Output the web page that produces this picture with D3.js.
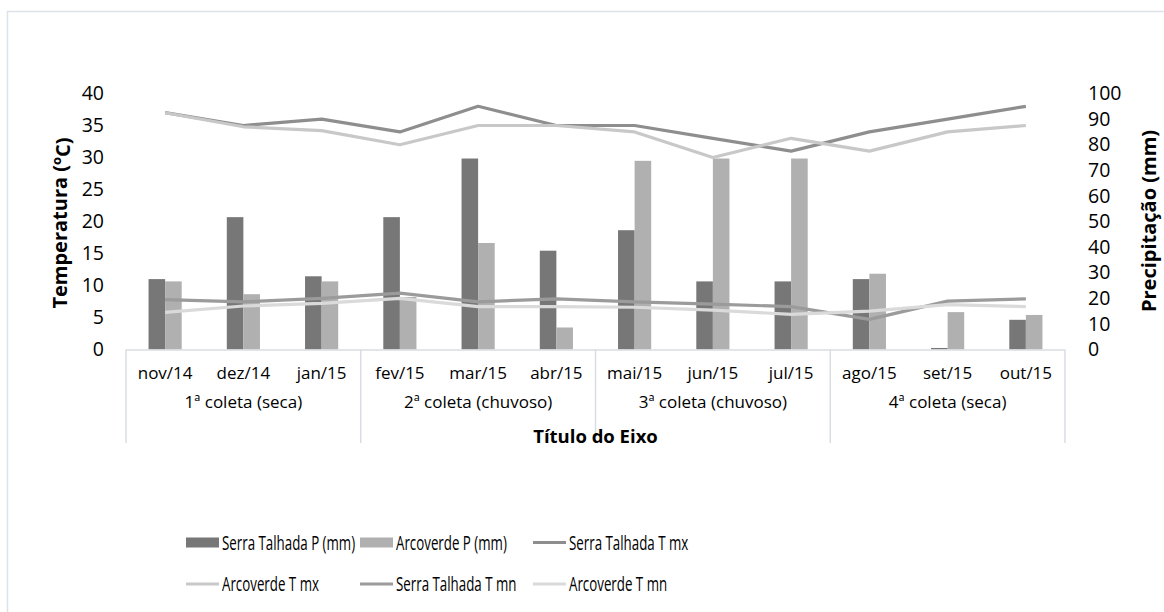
<!DOCTYPE html>
<html>
<head>
<meta charset="utf-8">
<script src="https://cdn.jsdelivr.net/npm/d3@7"></script>
<style>
  body { margin: 0; background: #fff; }
  text { font-family: "Open Sans", sans-serif; fill: #000; }
</style>
</head>
<body>
<svg id="chart"></svg>
<script>
// data
var months = ["nov/14","dez/14","jan/15","fev/15","mar/15","abr/15","mai/15","jun/15","jul/15","ago/15","set/15","out/15"];
var groups = ["1ª coleta (seca)","2ª coleta (chuvoso)","3ª coleta (chuvoso)","4ª coleta (seca)"];
var serraP = [27.5, 51.7, 28.6, 51.7, 74.6, 38.6, 46.6, 26.6, 26.6, 27.5, 0.6, 11.6];
var arcoP  = [26.6, 21.6, 26.6, 20.5, 41.6, 8.6, 73.7, 74.6, 74.6, 29.6, 14.6, 13.5];
var serraTmx = [37, 35, 36, 34, 38, 35, 35, 33, 31, 34, 36, 38];
var arcoTmx  = [37, 34.8, 34.2, 32, 35, 35, 34, 30, 33, 31, 34, 35];
var serraTmn = [7.8, 7.45, 8.0, 8.8, 7.45, 7.9, 7.45, 7.1, 6.7, 4.7, 7.55, 7.9];
var arcoTmn  = [5.8, 6.8, 7.2, 8.0, 6.7, 6.7, 6.6, 6.15, 5.5, 6.0, 7.0, 6.7];
var tempTicks = [0,5,10,15,20,25,30,35,40];
var precTicks = [0,10,20,30,40,50,60,70,80,90,100];

var W = 1164, H = 612;
var plotL = 126, plotR = 1065, plotT = 93.5, plotB = 349.5;

var svg = d3.select("#chart").attr("width", W).attr("height", H);

// outer frame
svg.append("rect").attr("x", 7.5).attr("y", 11.5).attr("width", W).attr("height", H)
   .attr("fill", "none").attr("stroke", "#dde1e8").attr("stroke-width", 1.5);

var x0 = d3.scaleBand().domain(months).range([plotL, plotR]).padding(0);
var x1 = d3.scaleBand().domain(["serra","arco"]).range([0, x0.bandwidth()])
           .paddingInner(0).paddingOuter(1.36);
var yT = d3.scaleLinear().domain([0, 40]).range([plotB, plotT]);
var yP = d3.scaleLinear().domain([0, 100]).range([plotB, plotT]);

// bars
var barSeries = [
  {key: "serra", vals: serraP, color: "#777777"},
  {key: "arco", vals: arcoP, color: "#b0b0b0"}
];
barSeries.forEach(function(s){
  svg.append("g").selectAll("rect")
     .data(s.vals)
     .enter()
     .append("rect")
     .attr("x", function(d, i){ return x0(months[i]) + x1(s.key); })
     .attr("y", function(d){ return yP(d); })
     .attr("width", x1.bandwidth())
     .attr("height", function(d){ return plotB - yP(d); })
     .attr("fill", s.color);
});

// lines
var lineSeries = [
  {vals: serraTmx, color: "#8e8e8e"},
  {vals: arcoTmx, color: "#c8c8c8"},
  {vals: serraTmn, color: "#9b9b9b"},
  {vals: arcoTmn, color: "#dadada"}
];
var line = d3.line()
  .x(function(d, i){ return x0(months[i]) + x0.bandwidth() / 2; })
  .y(function(d){ return yT(d); });
lineSeries.forEach(function(s){
  svg.append("path").datum(s.vals)
     .attr("d", line)
     .attr("fill", "none")
     .attr("stroke", s.color)
     .attr("stroke-width", 3.2)
     .attr("stroke-linejoin", "round");
});

// category axis
var axisColor = "#d9dde3";
svg.append("line").attr("x1", plotL).attr("x2", plotR).attr("y1", plotB + 0.5).attr("y2", plotB + 0.5)
   .attr("stroke", axisColor).attr("stroke-width", 1.5);
for (var g = 0; g <= groups.length; g++) {
  var gx = x0.range()[0] + g * 3 * x0.step();
  svg.append("line").attr("x1", gx).attr("x2", gx).attr("y1", plotB).attr("y2", 443)
     .attr("stroke", axisColor).attr("stroke-width", 1.5);
}
svg.append("g").selectAll("text")
   .data(months).enter().append("text")
   .attr("x", function(d){ return x0(d) + x0.bandwidth() / 2; })
   .attr("y", 379)
   .attr("text-anchor", "middle")
   .style("font-size", "17px")
   .text(function(d){ return d; });
svg.append("g").selectAll("text")
   .data(groups).enter().append("text")
   .attr("x", function(d, i){ return x0(months[i * 3]) + 1.5 * x0.step(); })
   .attr("y", 408)
   .attr("text-anchor", "middle")
   .style("font-size", "17px")
   .text(function(d){ return d; });
svg.append("text").attr("x", (plotL + plotR) / 2).attr("y", 443)
   .attr("text-anchor", "middle").style("font-size", "18.5px").style("font-weight", "bold")
   .text("Título do Eixo");

// value axes
var axL = svg.append("g").attr("transform", "translate(104,0)")
  .call(d3.axisLeft(yT).tickValues(tempTicks).tickSize(0).tickPadding(0));
axL.select(".domain").remove();
axL.selectAll("text").style("font-size", "19.5px").style("font-family", "Open Sans");

var axR = svg.append("g").attr("transform", "translate(1088,0)")
  .call(d3.axisRight(yP).tickValues(precTicks).tickSize(0).tickPadding(0));
axR.select(".domain").remove();
axR.selectAll("text").style("font-size", "19.5px").style("font-family", "Open Sans");

var tl = svg.append("text").attr("transform", "translate(67,223) rotate(-90)")
   .attr("text-anchor", "middle").style("font-size", "20px").style("font-weight", "bold");
tl.append("tspan").text("Temperatura (");
tl.append("tspan").attr("dy", "-0.45em").style("font-size", "13px").text("o");
tl.append("tspan").attr("dy", "0.45em").text("C)");

svg.append("text").attr("transform", "translate(1156,221) rotate(-90)")
   .attr("text-anchor", "middle").style("font-size", "20px").style("font-weight", "bold")
   .text("Precipitação (mm)");

// legend (text squeezed sideways like the original)
var legend = [
  {name: "Serra Talhada P (mm)", type: "bar", color: "#777777"},
  {name: "Arcoverde P (mm)", type: "bar", color: "#b0b0b0"},
  {name: "Serra Talhada T mx", type: "line", color: "#8e8e8e"},
  {name: "Arcoverde T mx", type: "line", color: "#c8c8c8"},
  {name: "Serra Talhada T mn", type: "line", color: "#9b9b9b"},
  {name: "Arcoverde T mn", type: "line", color: "#dadada"}
];
var colX = [186, 360, 533], rowY = [542.5, 584];
legend.forEach(function(l, i){
  var lx = colX[i % 3], ly = rowY[Math.floor(i / 3)];
  if (l.type === "bar") {
    svg.append("rect").attr("x", lx).attr("y", ly - 5).attr("width", 33).attr("height", 10).attr("fill", l.color);
  } else {
    svg.append("line").attr("x1", lx).attr("x2", lx + 33).attr("y1", ly).attr("y2", ly)
       .attr("stroke", l.color).attr("stroke-width", 3.2);
  }
  svg.append("g").attr("transform", "translate(" + (lx + 36) + "," + (ly + 7) + ") scale(0.65,1)")
     .append("text").attr("x", 0).attr("y", 0)
     .style("font-size", "20.5px").text(l.name);
});
</script>
</body>
</html>
